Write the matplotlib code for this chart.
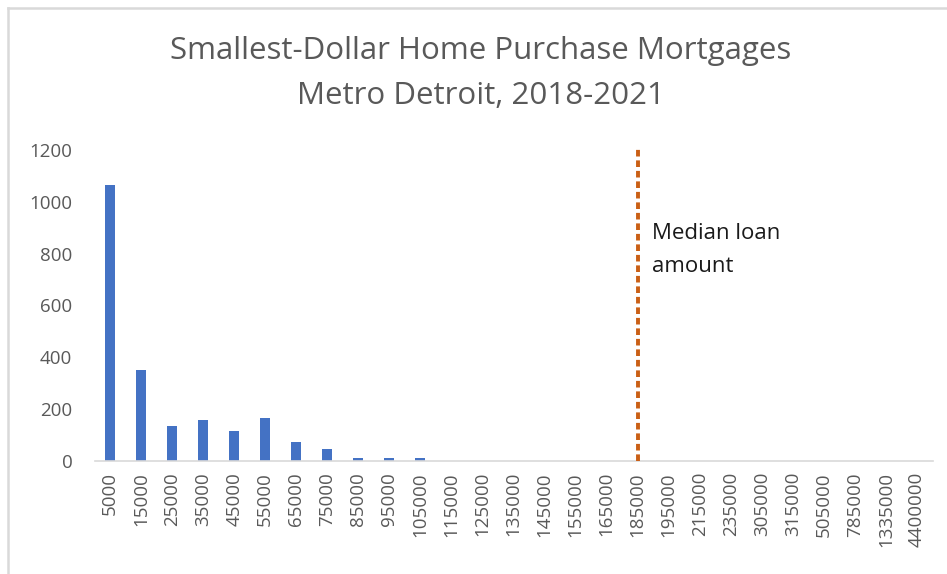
import matplotlib.pyplot as plt
from matplotlib.lines import Line2D

# loan amount buckets (x categories) and mortgage counts
loan_amounts = ['5000', '15000', '25000', '35000', '45000', '55000', '65000',
                '75000', '85000', '95000', '105000', '115000', '125000',
                '135000', '145000', '155000', '165000', '185000', '195000',
                '215000', '235000', '305000', '315000', '505000', '785000',
                '1335000', '4400000']
counts = [1065, 351, 136, 157, 116, 167, 75, 45, 12, 12, 13, 0, 0,
          0, 0, 0, 0, 0, 0, 0, 0, 0, 0, 0, 0, 0, 0]
median_bucket = '185000'
y_ticks = [0, 200, 400, 600, 800, 1000, 1200]

grey = '#595959'
plt.rcParams['font.family'] = ['Open Sans', 'DejaVu Sans']

fig = plt.figure(figsize=(9.47, 5.74), dpi=100)
ax = fig.add_axes([0.0998, 0.1969, 0.885, 0.5418])

x = list(range(len(loan_amounts)))
ax.bar(x, counts, width=0.32, color='#4472C4', zorder=2)

mx = loan_amounts.index(median_bucket)
ax.plot([mx, mx], [0, 1212], color='#CA5F15', lw=2.8, dashes=(1.7, 1.0),
        clip_on=False, zorder=3)
ax.text(mx + 0.45, 920, 'Median loan\namount', fontsize=16, color='#1a1a1a',
        va='top', ha='left', linespacing=1.75)

ax.set_xlim(-0.5, len(loan_amounts) - 0.5)
ax.set_ylim(0, 1200)
ax.set_yticks(y_ticks)
ax.set_xticks(x)
ax.set_xticklabels(loan_amounts, rotation=90)
ax.tick_params(axis='both', length=0, colors=grey, labelsize=13.5)
ax.tick_params(axis='y', pad=16)
ax.tick_params(axis='x', pad=8)
for side in ['top', 'right', 'left']:
    ax.spines[side].set_visible(False)
ax.spines['bottom'].set_color('#d9d9d9')
ax.spines['bottom'].set_linewidth(1.2)

fig.text(0.508, 0.911, 'Smallest-Dollar Home Purchase Mortgages',
         ha='center', va='center', fontsize=22.5, color=grey)
fig.text(0.508, 0.832, 'Metro Detroit, 2018-2021',
         ha='center', va='center', fontsize=22.5, color=grey)

# light chart frame (top and left edge)
fig.add_artist(Line2D([8 / 947, 1], [1 - 8 / 574, 1 - 8 / 574],
                      transform=fig.transFigure, color='#d9d9d9', lw=1.8))
fig.add_artist(Line2D([8 / 947, 8 / 947], [0, 1 - 8 / 574],
                      transform=fig.transFigure, color='#d9d9d9', lw=1.8))

fig.savefig('out.png', dpi=100, facecolor='white')
